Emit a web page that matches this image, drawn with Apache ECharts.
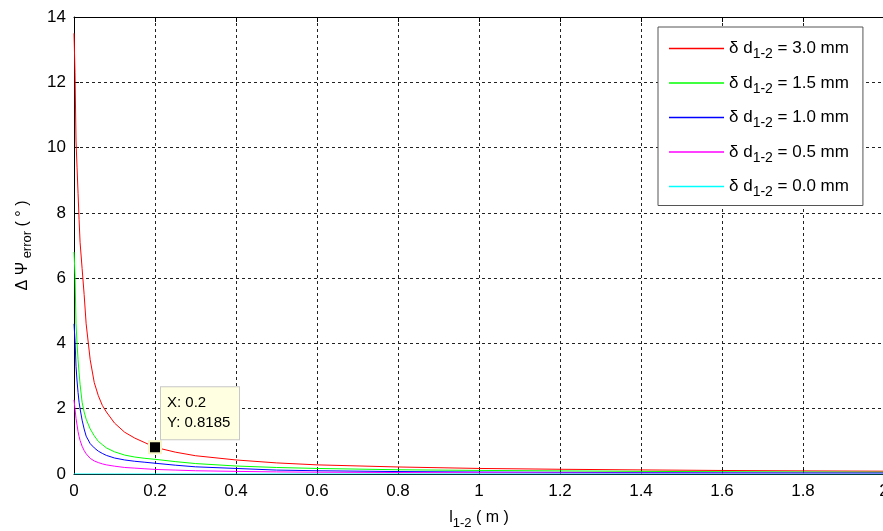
<!DOCTYPE html>
<html>
<head>
<meta charset="utf-8">
<script src="https://cdn.jsdelivr.net/npm/echarts@6.0.0/dist/echarts.min.js"></script>
<style>
	html, body { margin: 0; padding: 0; background: #fff; }
	#chart { width: 883px; height: 531px; }
</style>
</head>
<body>
<div id="chart"></div>
<script>
// l1-2 (m)
var xVals = [0, 0.0025, 0.005, 0.0075, 0.01, 0.0125, 0.015, 0.02, 0.025, 0.03, 0.04, 0.05, 0.06, 0.07, 0.08, 0.1,
	0.125, 0.15, 0.175, 0.2, 0.25, 0.3, 0.4, 0.5, 0.6, 0.8, 1.0, 1.2, 1.4, 1.6, 1.8, 2.0];

// delta psi error (deg), one array per delta d
var d30 = [13.5, 12.3, 10.2, 9.4, 8.6, 7.8, 7.1, 6.3, 5.5, 4.6, 3.5, 2.8, 2.4, 2.1, 1.9, 1.56,
	1.28, 1.1, 0.96, 0.8185, 0.67, 0.56, 0.43, 0.34, 0.28, 0.215, 0.17, 0.145, 0.125, 0.108, 0.096, 0.086];
var d15 = [6.8, 6.1, 4.6, 4.0, 3.5, 3.1, 2.75, 2.2, 1.9, 1.68, 1.38, 1.17, 1.0, 0.9, 0.8, 0.68,
	0.58, 0.52, 0.48, 0.45, 0.38, 0.32, 0.245, 0.2, 0.17, 0.13, 0.11, 0.095, 0.08, 0.07, 0.062, 0.055];
var d10 = [4.6, 4.1, 3.3, 2.85, 2.5, 2.2, 2.0, 1.65, 1.38, 1.16, 0.93, 0.8, 0.7, 0.63, 0.57, 0.49,
	0.43, 0.39, 0.36, 0.33, 0.27, 0.22, 0.17, 0.12, 0.1, 0.075, 0.06, 0.05, 0.043, 0.037, 0.033, 0.03];
var d05 = [2.27, 2.0, 1.7, 1.5, 1.3, 1.15, 1.03, 0.85, 0.72, 0.62, 0.48, 0.4, 0.35, 0.31, 0.28, 0.24,
	0.2, 0.18, 0.16, 0.14, 0.12, 0.1, 0.08, 0.065, 0.055, 0.045, 0.038, 0.032, 0.028, 0.025, 0.022, 0.02];
var d00 = [0, 0, 0, 0, 0, 0, 0, 0, 0, 0, 0, 0, 0, 0, 0, 0,
	0, 0, 0, 0, 0, 0, 0, 0, 0, 0, 0, 0, 0, 0, 0, 0];

var seriesVals = [d30, d15, d10, d05, d00];
var seriesLabels = ['3.0', '1.5', '1.0', '0.5', '0.0'];
var seriesColors = ['#ff0000', '#00ff00', '#0000ff', '#ff00ff', '#00ffff'];

// data tip
var tipX = 0.2;
var tipY = 0.8185;

var font = "'Liberation Sans', Arial, sans-serif";

function pairs(ys) {
	var out = [];
	for (var i = 0; i < xVals.length; i++) out.push([xVals[i], ys[i]]);
	return out;
}

var series = [];
for (var k = 0; k < seriesVals.length; k++) {
	var s = {
		name: 'δd = ' + seriesLabels[k] + ' mm',
		type: 'line',
		data: pairs(seriesVals[k]),
		symbol: 'none',
		animation: false,
		lineStyle: { color: seriesColors[k], width: 1 },
		itemStyle: { color: seriesColors[k] }
	};
	if (k === 0) {
		s.markPoint = {
			animation: false,
			data: [{ coord: [tipX, tipY] }],
			symbol: 'rect',
			symbolSize: 12,
			itemStyle: { color: '#000', borderColor: '#f5f5c8', borderWidth: 2 },
			label: {
				show: true,
				position: [13, -53],
				align: 'left',
				verticalAlign: 'top',
				formatter: 'X: ' + tipX + '\nY: ' + tipY,
				fontFamily: font,
				fontSize: 15,
				lineHeight: 20,
				color: '#000',
				backgroundColor: '#ffffe1',
				borderColor: '#c8c8c8',
				borderWidth: 1,
				padding: [6, 6, 6, 6],
				width: 66
			}
		};
	}
	series.push(s);
}

var gridLine = { show: true, lineStyle: { color: '#222', type: [3, 3], width: 1 } };

var chart = echarts.init(document.getElementById('chart'));
chart.setOption({
	backgroundColor: '#fff',
	animation: false,
	grid: { left: 74, top: 17, width: 810, height: 457, outerBoundsMode: 'none', containLabel: false },
	legend: {
		orient: 'vertical',
		left: 658,
		top: 27,
		padding: [13, 14, 6, 11],
		itemGap: 13,
		itemWidth: 55,
		itemHeight: 1.5,
		icon: 'rect',
		backgroundColor: '#fff',
		borderColor: '#555',
		borderWidth: 1,
		formatter: function(name) {
			var v = name.split('= ')[1];
			return '{a|δ d}{s|1-2}{a| = ' + v + '}';
		},
		textStyle: {
			rich: {
				a: { fontFamily: font, fontSize: 17, color: '#000', lineHeight: 26, verticalAlign: 'middle' },
				s: { fontFamily: font, fontSize: 14, color: '#000', lineHeight: 12, verticalAlign: 'bottom' }
			}
		}
	},
	xAxis: [{
		type: 'value',
		min: 0,
		max: 2,
		interval: 0.2,
		name: '{a|l}{s|1-2}{a| ( m )}',
		nameLocation: 'middle',
		nameGap: 32,
		nameTextStyle: {
			rich: {
				a: { fontFamily: font, fontSize: 16, color: '#000', lineHeight: 24, verticalAlign: 'middle' },
				s: { fontFamily: font, fontSize: 13, color: '#000', lineHeight: 10, verticalAlign: 'bottom' }
			}
		},
		axisLine: { show: true, lineStyle: { color: '#000', width: 1 } },
		axisTick: { show: true, inside: true, length: 5, lineStyle: { color: '#000' } },
		axisLabel: { fontFamily: font, fontSize: 17, color: '#000', margin: 9 },
		splitLine: gridLine
	}, {
		type: 'value',
		position: 'top',
		min: 0,
		max: 2,
		interval: 0.2,
		axisLine: { show: true, lineStyle: { color: '#000', width: 1 } },
		axisTick: { show: true, inside: true, length: 5, lineStyle: { color: '#000' } },
		axisLabel: { show: false },
		splitLine: { show: false }
	}],
	yAxis: [{
		type: 'value',
		min: 0,
		max: 14,
		interval: 2,
		name: '{a|Δ Ψ}{s| error}{a| ( ° )}',
		nameLocation: 'middle',
		nameGap: 40,
		nameRotate: 90,
		nameTextStyle: {
			rich: {
				a: { fontFamily: font, fontSize: 16, color: '#000', lineHeight: 22, verticalAlign: 'middle' },
				s: { fontFamily: font, fontSize: 13, color: '#000', lineHeight: 10, verticalAlign: 'bottom' }
			}
		},
		axisLine: { show: true, lineStyle: { color: '#000', width: 1 } },
		axisTick: { show: true, inside: true, length: 5, lineStyle: { color: '#000' } },
		axisLabel: { fontFamily: font, fontSize: 17, color: '#000', margin: 8 },
		splitLine: gridLine
	}],
	series: series
});
</script>
</body>
</html>
